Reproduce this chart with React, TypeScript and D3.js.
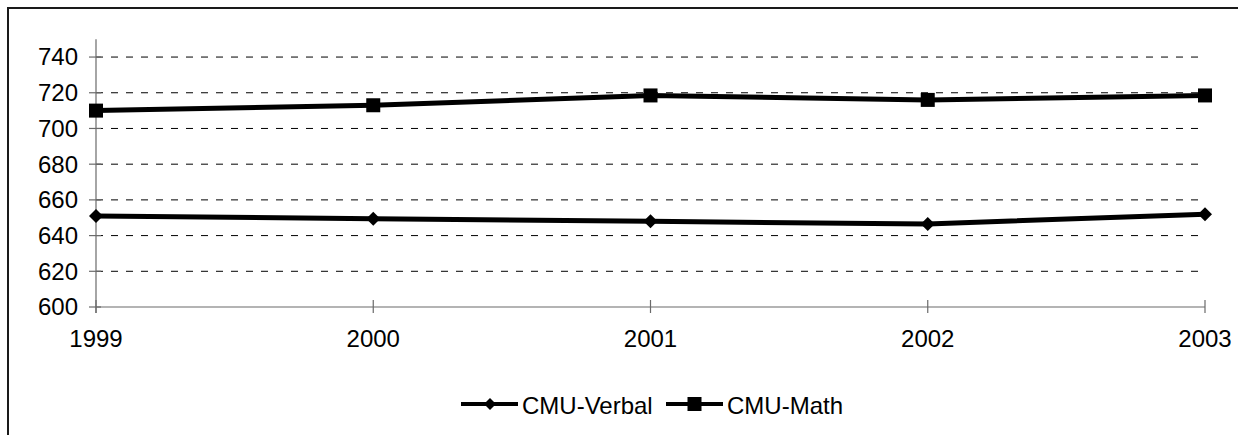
import React from "react";
import * as d3 from "d3";

const years = ["1999", "2000", "2001", "2002", "2003"];
const verbal = [651, 649.5, 648, 646.5, 652];
const math = [710, 713, 718.5, 716, 718.5];
const yTicks = [600, 620, 640, 660, 680, 700, 720, 740];
const seriesNames = ["CMU-Verbal", "CMU-Math"];

const W = 1238;
const H = 435;
const FONT = "'Liberation Sans', Arial, sans-serif";

export default function App() {
  const x = d3.scalePoint<string>().domain(years).range([96, 1205]);
  const y = d3.scaleLinear().domain([600, 750]).range([307, 39.2]);
  const line = d3
    .line<number>()
    .x((_, i) => x(years[i]) as number)
    .y((d) => y(d));

  const diamond = (cx: number, cy: number, r: number) =>
    `M${cx},${cy - r}L${cx + r},${cy}L${cx},${cy + r}L${cx - r},${cy}Z`;

  return (
    <svg
      width={W}
      height={H}
      style={{ position: "absolute", left: 0, top: 0, background: "#fff" }}
      fontFamily={FONT}
    >
      <rect x={0} y={0} width={W} height={H} fill="#fff" />
      <rect x={8} y={8} width={1250} height={460} fill="none" stroke="#1a1a1a" strokeWidth={2} />

      {yTicks
        .filter((t) => t !== 600)
        .map((t) => (
          <line
            key={"g" + t}
            x1={96}
            x2={1205}
            y1={y(t)}
            y2={y(t)}
            stroke="#000"
            strokeWidth={1}
            strokeDasharray="7,8"
          />
        ))}

      <line x1={96} x2={96} y1={y(750)} y2={313} stroke="#6a6a6a" strokeWidth={1.2} />
      {yTicks.map((t) => (
        <g key={"yt" + t}>
          <line x1={89} x2={101} y1={y(t)} y2={y(t)} stroke="#6a6a6a" strokeWidth={1.2} />
          <text x={78} y={y(t)} dy="0.35em" textAnchor="end" fontSize={24} fill="#000">
            {t}
          </text>
        </g>
      ))}

      <line x1={96} x2={1205} y1={307} y2={307} stroke="#6a6a6a" strokeWidth={1.2} />
      {years.map((yr) => (
        <g key={"xt" + yr}>
          <line x1={x(yr)} x2={x(yr)} y1={300} y2={313} stroke="#6a6a6a" strokeWidth={1.2} />
          <text x={x(yr)} y={347} textAnchor="middle" fontSize={24} fill="#000">
            {yr}
          </text>
        </g>
      ))}

      <path d={line(verbal) || ""} fill="none" stroke="#000" strokeWidth={5} />
      <path d={line(math) || ""} fill="none" stroke="#000" strokeWidth={5} />
      {verbal.map((v, i) => (
        <path key={"vm" + i} d={diamond(x(years[i]) as number, y(v), 7)} fill="#000" />
      ))}
      {math.map((v, i) => (
        <rect
          key={"mm" + i}
          x={(x(years[i]) as number) - 7}
          y={y(v) - 7}
          width={14}
          height={14}
          fill="#000"
        />
      ))}

      <line x1={461} x2={518} y1={404} y2={404} stroke="#000" strokeWidth={4} />
      <path d={diamond(490, 404, 6)} fill="#000" />
      <text x={522} y={414} fontSize={24} fill="#000">
        {seriesNames[0]}
      </text>
      <line x1={666} x2={723} y1={404} y2={404} stroke="#000" strokeWidth={4} />
      <rect x={687.5} y={397} width={14} height={14} fill="#000" />
      <text x={727} y={414} fontSize={24} fill="#000">
        {seriesNames[1]}
      </text>
    </svg>
  );
}
